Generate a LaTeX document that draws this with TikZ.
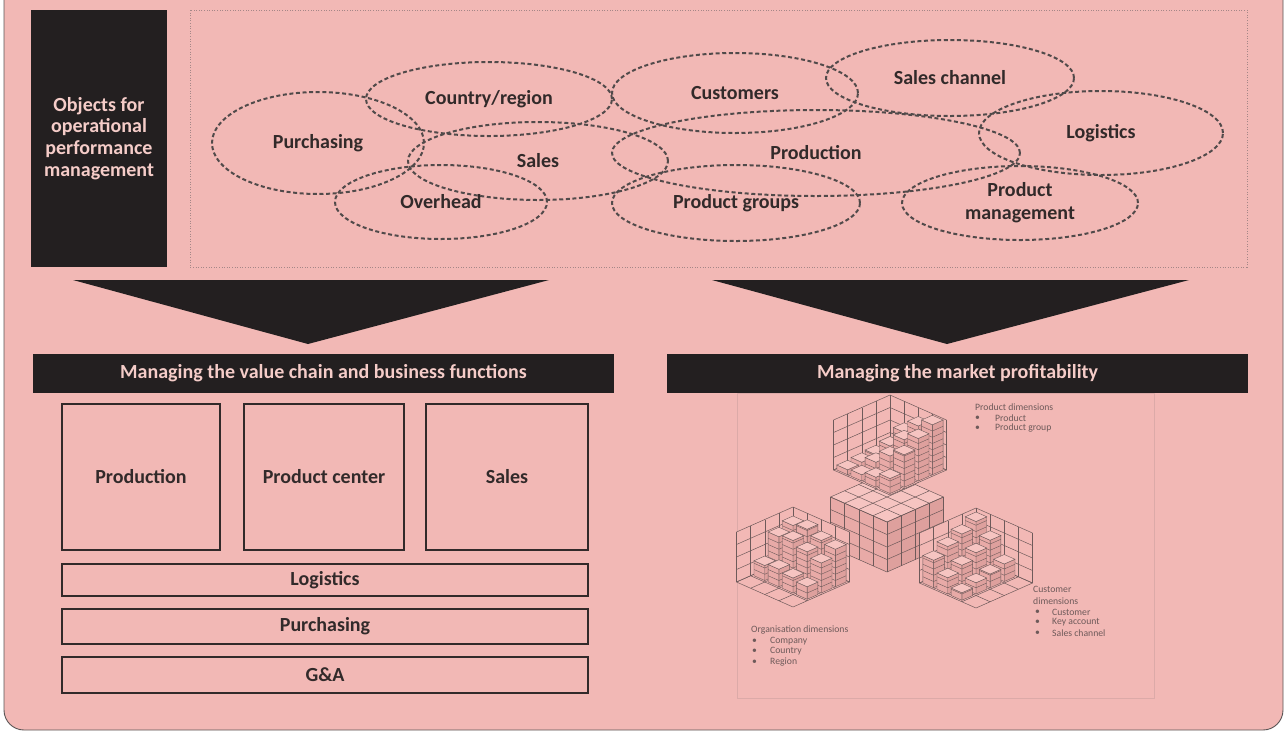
\documentclass[tikz,border=0pt]{standalone}
\usepackage{fontspec}
\setmainfont{Carlito}
\usetikzlibrary{shapes.geometric}
\definecolor{bg}{RGB}{242,184,181}
\definecolor{blk}{RGB}{35,31,32}
\definecolor{ink}{RGB}{50,42,42}
\definecolor{lt}{RGB}{245,204,200}
\definecolor{gridc}{RGB}{110,90,90}
\definecolor{side1}{RGB}{232,170,167}
\definecolor{side2}{RGB}{222,160,157}
\definecolor{topc}{RGB}{246,196,193}
\definecolor{dotc}{RGB}{165,135,135}
\definecolor{panelc}{RGB}{220,170,168}
\tikzset{
  ell/.style={ellipse, draw=ink!85, line width=2pt, dash pattern=on 4pt off 2.6pt, inner sep=0pt,
     font=\fontsize{20}{23}\selectfont\bfseries, text=ink, align=center},
  blackbox/.style={fill=blk, inner sep=0pt, text=lt, font=\fontsize{20}{21.7}\selectfont\bfseries, align=center},
  header/.style={fill=blk, inner sep=0pt, text=lt, font=\fontsize{20}{23}\selectfont\bfseries},
  funcbox/.style={draw=ink, line width=1.5pt, inner sep=0pt, text=ink, font=\fontsize{20}{23}\selectfont\bfseries},
  gl/.style={draw=gridc, line width=0.5pt},
  bar/.style={draw=gridc, line width=0.4pt},
  small/.style={text=gridc, font=\fontsize{9.7}{11}\selectfont, inner sep=0pt, anchor=west},
}
\newcommand\gridbox[3]{%
\begin{scope}[shift={(#1,#2)}]
\begin{scope}[x={(14.125pt,-6.25pt)},y={(-14.125pt,-6.25pt)},z={(0pt,12.5pt)}]
  \fill[bg] (0,0,0)--(4,0,0)--(4,4,0)--(0,4,0)--cycle;
  \fill[bg] (0,0,0)--(0,4,0)--(0,4,4)--(0,0,4)--cycle;
  \fill[bg] (0,0,0)--(4,0,0)--(4,0,4)--(0,0,4)--cycle;
  \foreach \k in {0,...,4}{
    \draw[gl] (\k,0,0)--(\k,4,0); \draw[gl] (0,\k,0)--(4,\k,0);
    \draw[gl] (0,\k,0)--(0,\k,4); \draw[gl] (0,0,\k)--(0,4,\k);
    \draw[gl] (\k,0,0)--(\k,0,4); \draw[gl] (0,0,\k)--(4,0,\k);
  }
  \foreach \s in {0,...,6}{
    \foreach \i in {0,...,3}{
      \pgfmathtruncatemacro\j{\s-\i}
      \ifnum\j>-1 \ifnum\j<4
        \pgfmathtruncatemacro\idx{\i*4+\j}
        \pgfmathsetmacro\h{#3[\idx]}
        \ifdim\h pt>0pt
          \pgfmathsetmacro\a{\i+0.12}\pgfmathsetmacro\b{\i+0.88}
          \pgfmathsetmacro\c{\j+0.12}\pgfmathsetmacro\d{\j+0.88}
          \filldraw[bar,fill=side2] (\b,\c,0)--(\b,\d,0)--(\b,\d,\h)--(\b,\c,\h)--cycle;
          \filldraw[bar,fill=side1] (\a,\d,0)--(\b,\d,0)--(\b,\d,\h)--(\a,\d,\h)--cycle;
          \filldraw[bar,fill=topc] (\a,\c,\h)--(\b,\c,\h)--(\b,\d,\h)--(\a,\d,\h)--cycle;
          \foreach \t in {0.5,1,...,3.9}{
            \ifdim\t pt<\h pt
              \draw[bar] (\b,\c,\t)--(\b,\d,\t)--(\a,\d,\t);
            \fi}
        \fi
      \fi\fi
    }}
\end{scope}\end{scope}}
\begin{document}
\begin{tikzpicture}[x=1pt,y=-1pt]
\useasboundingbox (0,0) rectangle (1285,732);
\fill[white] (0,0) rectangle (1285,732);
\draw[fill=bg, draw=ink!80, line width=0.9pt, rounded corners=20pt] (4,-40) rectangle (1283,730);

% top area
\node (obj) [blackbox, minimum width=136pt, minimum height=257pt] at (99,138.5)
  {Objects for\\operational\\performance\\management};
\draw[draw=dotc, line width=0.9pt, dash pattern=on 1pt off 1.6pt] (190,10) rectangle (1247,267);

\node (purch) [ell, minimum width=212pt, minimum height=102pt] at (318,143) {Purchasing};
\node (country) [ell, minimum width=246pt, minimum height=74pt] at (489,99) {Country/region};
\node (sales) [ell, minimum width=260pt, minimum height=78pt] at (538,161) {Sales};
\node (over) [ell, minimum width=212pt, minimum height=74pt] at (441,202) {Overhead};
\node (cust) [ell, minimum width=246pt, minimum height=80pt] at (735,93) {Customers};
\node (chan) [ell, minimum width=248pt, minimum height=76pt] at (950,78) {Sales channel};
\node (prod) [ell, minimum width=408pt, minimum height=86pt] at (816,153) {Production};
\node (logi) [ell, minimum width=244pt, minimum height=84pt] at (1101,133) {Logistics};
\node (pgrp) [ell, minimum width=248pt, minimum height=76pt] at (736,203) {Product groups};
\node (pman) [ell, minimum width=236pt, minimum height=74pt] at (1020,203) {Product\\management};

% arrows
\fill[blk] (73,280) -- (549,280) -- (308,344) -- cycle;
\fill[blk] (712,280) -- (1189,280) -- (947,344) -- cycle;

% headers
\node (hl) [header, minimum width=581pt, minimum height=39pt] at (323.5,373.5) {Managing the value chain and business functions};
\node (hr) [header, minimum width=581pt, minimum height=39pt] at (957.5,373.5) {Managing the market profitability};

% function boxes
\node (bprod) [funcbox, minimum width=158pt, minimum height=146pt] at (141,477) {Production};
\node (bpc) [funcbox, minimum width=160pt, minimum height=146pt] at (324,477) {Product center};
\node (bsales) [funcbox, minimum width=162pt, minimum height=146pt] at (507,477) {Sales};
\node (blog) [funcbox, minimum width=526pt, minimum height=32pt] at (325,580) {Logistics};
\node (bpur) [funcbox, minimum width=526pt, minimum height=35pt] at (325,626.5) {Purchasing};
\node (bga) [funcbox, minimum width=526pt, minimum height=36pt] at (325,675) {G\&A};

% market cube panel
\draw[draw=panelc, line width=0.8pt] (737,393) rectangle (1154,698);

% central cube
\begin{scope}[shift={(887,522)}]
\begin{scope}[x={(14.125pt,-6.25pt)},y={(-14.125pt,-6.25pt)},z={(0pt,12.5pt)}]
  \fill[topc] (0,0,4)--(4,0,4)--(4,4,4)--(0,4,4)--cycle;
  \fill[side2] (4,0,0)--(4,4,0)--(4,4,4)--(4,0,4)--cycle;
  \fill[side1] (0,4,0)--(4,4,0)--(4,4,4)--(0,4,4)--cycle;
  \foreach \k in {0,...,4}{
    \draw[gl] (\k,0,4)--(\k,4,4); \draw[gl] (0,\k,4)--(4,\k,4);
    \draw[gl] (4,\k,0)--(4,\k,4); \draw[gl] (4,0,\k)--(4,4,\k);
    \draw[gl] (\k,4,0)--(\k,4,4); \draw[gl] (0,4,\k)--(4,4,\k);
  }
\end{scope}\end{scope}

\gridbox{793}{557}{{3.4,3.0,1.2,0, 3.6,3.2,1.4,0, 3.2,2.8,1.2,0, 3.0,2.4,1.0,0}}
\gridbox{976}{558}{{3.8,3.3,2.8,2.2, 2.8,2.3,1.8,1.3, 1.4,1.1,0.9,0.6, 0,0,0,0}}
\gridbox{890}{445}{{0.8,0.6,0.5,0.4, 2.4,1.8,1.0,0.5, 3.4,2.8,2.0,0.8, 4.0,3.4,2.6,1.2}}

% labels
\node (pd) [small] at (975,407) {Product dimensions};
\node (pd1) [small] at (975,418) {•};
\node (pd1t) [small] at (995,418) {Product};
\node (pd2) [small] at (975,428) {•};
\node (pd2t) [small] at (995,428) {Product group};

\node (cd) [small] at (1033,589) {Customer};
\node (cd0) [small] at (1033,601) {dimensions};
\node (cd1) [small] at (1035,612) {•};
\node (cd1t) [small] at (1052,612) {Customer};
\node (cd2) [small] at (1035,622) {•};
\node (cd2t) [small] at (1052,622) {Key account};
\node (cd3) [small] at (1035,633) {•};
\node (cd3t) [small] at (1052,633) {Sales channel};

\node (od) [small] at (751,630) {Organisation dimensions};
\node (od1) [small] at (752,641) {•};
\node (od1t) [small] at (770,641) {Company};
\node (od2) [small] at (752,651) {•};
\node (od2t) [small] at (770,651) {Country};
\node (od3) [small] at (752,662) {•};
\node (od3t) [small] at (770,662) {Region};
\end{tikzpicture}
\end{document}
